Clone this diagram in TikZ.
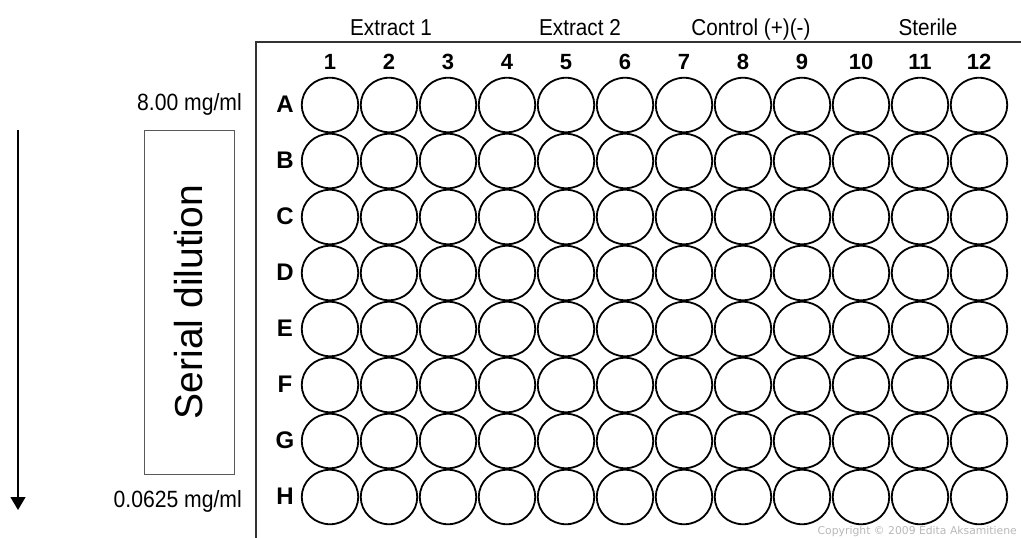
\documentclass[tikz,border=0pt]{standalone}
\usepackage{fontspec}
\setmainfont{Liberation Sans}
\newfontfamily\narrowfont[FakeStretch=0.9]{Liberation Sans}
\newfontfamily\copyfont{DejaVu Sans}
\usetikzlibrary{shapes.geometric,arrows.meta}
\tikzset{
  well/.style={draw=black, line width=1.8pt, ellipse, minimum width=56.5pt, minimum height=54.5pt, inner sep=0pt},
  colnum/.style={font=\fontsize{22}{22}\selectfont\bfseries, inner sep=0pt, anchor=base},
  rowlet/.style={font=\fontsize{24}{24}\selectfont\bfseries, inner sep=0pt, anchor=base},
  header/.style={font=\narrowfont\fontsize{23}{23}\selectfont, inner sep=0pt, anchor=base},
  conc/.style={font=\narrowfont\fontsize{23.5}{23.5}\selectfont, inner sep=0pt, anchor=base east},
  frame/.style={draw=black!80, line width=2pt},
}
\begin{document}
\begin{tikzpicture}[x=1pt,y=-1pt]
\useasboundingbox (0,0) rectangle (1021,538);
% plate frame
\coordinate (ftr) at (1021,42);
\coordinate (ftl) at (256,42);
\coordinate (fbl) at (256,538);
\draw[frame] (ftr) -- (ftl) -- (fbl);
% headers
\node[header] (h1) at (391,35) {Extract 1};
\node[header] (h2) at (580,35) {Extract 2};
\node[header] (h3) at (751,35) {Control (+)(-)};
\node[header] (h4) at (928,35) {Sterile};
% column numbers and wells
\foreach \c in {1,...,12}{
  \node[colnum] (c\c) at ({330+59*(\c-1)},69) {\c};
}
\foreach \r [count=\i from 0] in {A,B,C,D,E,F,G,H}{
  \node[rowlet] (r\r) at (285,{112+56*\i}) {\r};
  \foreach \c in {1,...,12}{
    \node[well] (w\r\c) at ({330+59*(\c-1)},{105+56*\i}) {};
  }
}
% concentrations
\node[conc] (top) at (242,110) {8.00 mg/ml};
\node[conc] (bot) at (242,507) {0.0625 mg/ml};
% serial dilution box
\node[draw=black!65, line width=1pt, minimum width=90pt, minimum height=344pt, inner sep=0pt] (dil) at (189,302) {};
\node[rotate=90, font=\fontsize{39}{39}\selectfont, inner sep=0pt] (diltext) at (dil.center) {Serial dilution};
% arrow
\coordinate (atop) at (18,130);
\coordinate (abot) at (18,510);
\draw[line width=1.2pt, -{Triangle[width=15pt,length=13pt]}] (atop) -- (abot);
% copyright
\node[font=\copyfont\fontsize{10.8}{10.8}\selectfont, text=black!28, anchor=base east, inner sep=0pt] (copy) at (1017,534) {Copyright © 2009 Edita Aksamitiene};
\end{tikzpicture}
\end{document}
